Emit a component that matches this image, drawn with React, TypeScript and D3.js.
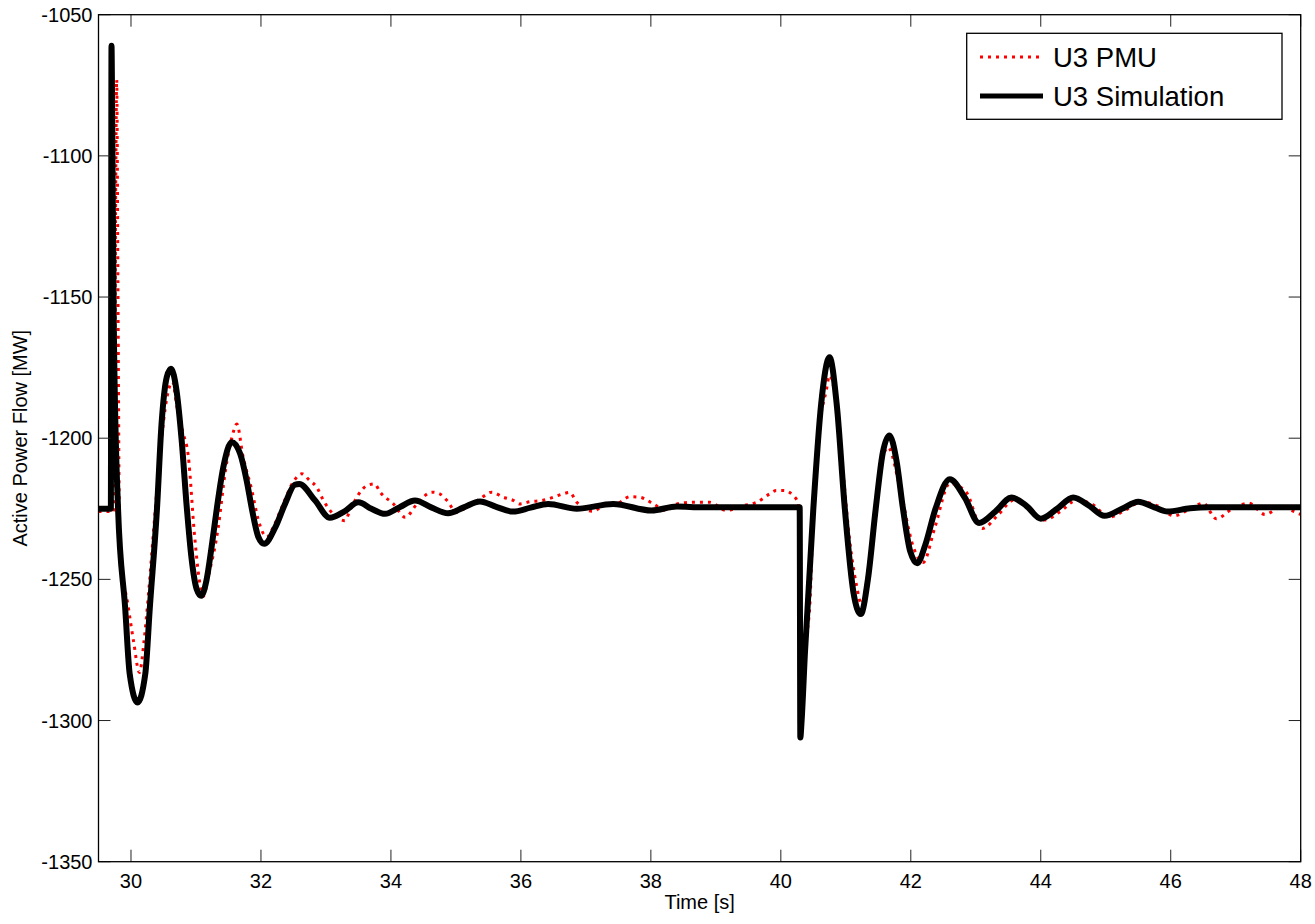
import React from "react";
import * as d3 from "d3";

const xTicks = [30, 32, 34, 36, 38, 40, 42, 44, 46, 48];
const yTicks = [-1350, -1300, -1250, -1200, -1150, -1100, -1050];

const simT = [29.5, 29.69, 29.70, 29.712, 29.735, 29.80, 29.91, 29.98, 30.10, 30.22, 30.29, 30.40, 30.47, 30.55, 30.615, 30.70, 30.78, 30.86, 30.93, 31.01, 31.08, 31.16, 31.24, 31.32, 31.42, 31.55, 31.68, 31.78, 31.86, 31.96, 32.05, 32.22, 32.37, 32.52, 32.59, 32.83, 33.06, 33.28, 33.50, 33.70, 33.91, 34.13, 34.37, 34.62, 34.88, 35.12, 35.37, 35.62, 35.88, 36.15, 36.42, 36.86, 37.42, 38.01, 38.4, 38.8, 40.29, 40.30, 40.32, 40.37, 40.50, 40.62, 40.75, 40.86, 40.985, 41.12, 41.23, 41.34, 41.46, 41.57, 41.67, 41.78, 41.88, 41.99, 42.10, 42.22, 42.38, 42.6, 42.83, 43.05, 43.3, 43.55, 43.78, 44.0, 44.25, 44.5, 44.75, 44.98, 45.25, 45.5, 45.75, 45.95, 46.3, 46.6, 48];
const simV = [-1225, -1225, -1061, -1090, -1160, -1224.5, -1260, -1283.5, -1293.6, -1283.5, -1260, -1225, -1195, -1178.4, -1175.4, -1183, -1200.8, -1225, -1242.2, -1253.4, -1255.8, -1250.5, -1238.6, -1225, -1210.3, -1201.4, -1205.5, -1215, -1225, -1235, -1237.4, -1231.6, -1223.3, -1216.5, -1216.2, -1222, -1228.2, -1226, -1222.7, -1225, -1226.8, -1224.5, -1222.1, -1224.5, -1226.6, -1224.5, -1222.4, -1224.3, -1226.0, -1224.6, -1223.3, -1225.0, -1223.3, -1225.6, -1224.2, -1224.5, -1224.5, -1306, -1300, -1276.5, -1225, -1188, -1171.3, -1188, -1225, -1255, -1262.3, -1250, -1225, -1205, -1199, -1208, -1225, -1240, -1244.3, -1238, -1225, -1214.5, -1221, -1230, -1226, -1221, -1224, -1228.5, -1225, -1221, -1224, -1227.5, -1225, -1222.5, -1224.5, -1226, -1224.8, -1224.5, -1224.5];

const pmuT = [29.5, 29.74, 29.765, 29.78, 29.80, 29.82, 29.84, 29.96, 30.04, 30.13, 30.20, 30.27, 30.35, 30.45, 30.55, 30.64, 30.70, 30.80, 30.88, 30.98, 31.05, 31.11, 31.20, 31.34, 31.45, 31.55, 31.63, 31.72, 31.86, 31.96, 32.09, 32.20, 32.32, 32.51, 32.63, 32.75, 32.86, 32.96, 33.11, 33.29, 33.37, 33.50, 33.63, 33.75, 33.83, 34.04, 34.22, 34.40, 34.63, 34.75, 34.86, 35.01, 35.16, 35.37, 35.55, 35.73, 35.88, 35.98, 36.14, 36.34, 36.50, 36.65, 36.75, 36.86, 37.11, 37.27, 37.47, 37.68, 37.83, 38.04, 38.24, 38.40, 38.65, 38.91, 39.16, 39.42, 39.63, 39.83, 39.93, 40.04, 40.19, 40.27, 40.28, 40.29, 40.32, 40.40, 40.45, 40.50, 40.57, 40.70, 40.75, 40.86, 40.96, 41.06, 41.16, 41.24, 41.40, 41.52, 41.65, 41.83, 42.04, 42.19, 42.37, 42.60, 42.85, 43.1, 43.35, 43.58, 43.8, 44.05, 44.3, 44.55, 44.8, 45.05, 45.3, 45.55, 45.8, 46.05, 46.3, 46.5, 46.7, 46.95, 47.2, 47.45, 47.7, 47.9, 48];
const pmuV = [-1226, -1226, -1110, -1073, -1150, -1225, -1240, -1260, -1272, -1283, -1272, -1255, -1232, -1205, -1186, -1180, -1188, -1198, -1206, -1235, -1250, -1256, -1248, -1232, -1212, -1200, -1195, -1206, -1218.5, -1229, -1235, -1231, -1224.5, -1215, -1212.6, -1215, -1217.4, -1222, -1226.8, -1229.2, -1225.6, -1220, -1216.8, -1216.2, -1219, -1223.3, -1228, -1223.3, -1219.1, -1219.7, -1222, -1226.2, -1224.5, -1221.5, -1219.1, -1220.9, -1222, -1223.3, -1222.5, -1222, -1220.9, -1219.7, -1219.2, -1222.7, -1225.9, -1223.9, -1223.3, -1220.7, -1220.9, -1223.3, -1225.6, -1223.3, -1222.7, -1222.7, -1225.6, -1223.9, -1222.7, -1219.7, -1218.5, -1218.5, -1220.3, -1223.3, -1260, -1292, -1290, -1270, -1257.5, -1224.5, -1200.8, -1183, -1177.8, -1189, -1212.6, -1236.3, -1251.6, -1258.7, -1236.3, -1212.6, -1203.2, -1217.4, -1238.6, -1244, -1231.6, -1216, -1219, -1232, -1227, -1222, -1224, -1229, -1226, -1222, -1223.5, -1228, -1225.5, -1222.5, -1224, -1227.5, -1225, -1223, -1228.5, -1225, -1223, -1227, -1224.5, -1226, -1227];

const seriesNames = ["U3 PMU", "U3 Simulation"];
const xLabel = "Time [s]";
const yLabel = "Active Power Flow [MW]";

const W = 1315, H = 924;
const L = 98.5, R = 1300.7, T = 14.7, B = 861.7;
const FONT = "'Liberation Sans', Arial, sans-serif";

export default function App() {
  const x = d3.scaleLinear().domain([29.5, 48]).range([L, R]);
  const y = d3.scaleLinear().domain([-1350, -1050]).range([B, T]);
  const line = d3.line<[number, number]>().x(d => x(d[0])).y(d => y(d[1])).curve(d3.curveMonotoneX);
  const simPts: [number, number][] = simT.map((t, i) => [t, simV[i]]);
  const pmuPts: [number, number][] = pmuT.map((t, i) => [t, pmuV[i]]);
  const tk = 12;
  return (
    <svg width={W} height={H} style={{ position: "absolute", left: 0, top: 0, display: "block", background: "#fff" }} fontFamily={FONT}>
      <defs>
        <clipPath id="plotclip"><rect x={L} y={T} width={R - L} height={B - T} /></clipPath>
      </defs>
      <rect x={0} y={0} width={W} height={H} fill="#fff" />
      <g clipPath="url(#plotclip)">
        <path d={line(pmuPts) || ""} fill="none" stroke="#ff0000" strokeWidth={3} strokeDasharray="3,5" />
        <path d={line(simPts) || ""} fill="none" stroke="#000" strokeWidth={6} strokeLinejoin="round" strokeLinecap="round" />
      </g>
      {xTicks.map(t => (
        <g key={"x" + t}>
          <line x1={x(t)} x2={x(t)} y1={B} y2={B - tk} stroke="#222" strokeWidth={1} />
          <line x1={x(t)} x2={x(t)} y1={T} y2={T + tk} stroke="#222" strokeWidth={1} />
          <text x={x(t)} y={881} fontSize={20} textAnchor="middle" dominantBaseline="central" fill="#000">{t}</text>
        </g>
      ))}
      {yTicks.map(v => (
        <g key={"y" + v}>
          <line x1={L} x2={L + tk} y1={y(v)} y2={y(v)} stroke="#222" strokeWidth={1} />
          <line x1={R} x2={R - tk} y1={y(v)} y2={y(v)} stroke="#222" strokeWidth={1} />
          <text x={92.5} y={y(v)} fontSize={20} textAnchor="end" dominantBaseline="central" fill="#000">{v}</text>
        </g>
      ))}
      <rect x={L} y={T} width={R - L} height={B - T} fill="none" stroke="#000" strokeWidth={1.3} />
      <text x={(L + R) / 2} y={909} fontSize={20} textAnchor="middle" fill="#000">{xLabel}</text>
      <text transform={`translate(27,${(T + B) / 2}) rotate(-90)`} fontSize={20} textAnchor="middle" fill="#000">{yLabel}</text>
      <g>
        <rect x={966.7} y={33.3} width={1282 - 966.7} height={119.3 - 33.3} fill="#fff" stroke="#000" strokeWidth={1.3} />
        <line x1={980} x2={1043} y1={57} y2={57} stroke="#ff0000" strokeWidth={3} strokeDasharray="3,5" />
        <text x={1053} y={66.5} fontSize={27.5} fill="#000">{seriesNames[0]}</text>
        <line x1={980} x2={1043} y1={96} y2={96} stroke="#000" strokeWidth={5} />
        <text x={1053} y={106} fontSize={27.5} fill="#000">{seriesNames[1]}</text>
      </g>
    </svg>
  );
}
